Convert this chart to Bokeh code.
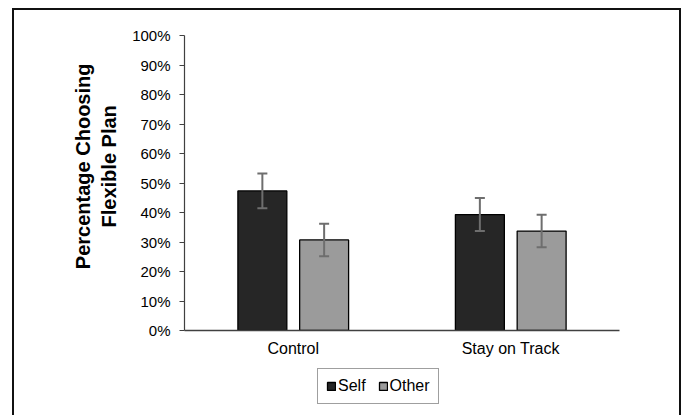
from bokeh.plotting import figure
from bokeh.layouts import column
from bokeh.models import (ColumnDataSource, FactorRange, Range1d, NumeralTickFormatter,
                          Whisker, TeeHead, Legend, LegendItem, FixedTicker, InlineStyleSheet)
from bokeh.transform import dodge
from bokeh.embed import file_html
from bokeh.resources import INLINE

categories = ["Control", "Stay on Track"]
series = ["Self", "Other"]
self_vals = [0.473, 0.393]
other_vals = [0.307, 0.337]
self_err = [0.059, 0.056]
other_err = [0.055, 0.055]
y_ticks = [0.0, 0.1, 0.2, 0.3, 0.4, 0.5, 0.6, 0.7, 0.8, 0.9, 1.0]
y_title_lines = ["Percentage Choosing", "Flexible Plan"]

FONT = "Liberation Sans"
COLORS = {"Self": "#262626", "Other": "#9b9b9b"}
VALUE_COL = {"Self": "self_v", "Other": "other_v"}

src = ColumnDataSource(dict(
    cat=categories,
    self_v=self_vals,
    other_v=other_vals,
    self_lo=[v - e for v, e in zip(self_vals, self_err)],
    self_hi=[v + e for v, e in zip(self_vals, self_err)],
    other_lo=[v - e for v, e in zip(other_vals, other_err)],
    other_hi=[v + e for v, e in zip(other_vals, other_err)],
))

p = figure(width=683, height=360, x_range=FactorRange(*categories, range_padding=0),
           y_range=Range1d(0, 1), output_backend="svg", toolbar_location=None,
           min_border_left=184, min_border_right=64, min_border_top=35, min_border_bottom=30)
p.x_range.factor_padding = 0
p.outline_line_color = None
p.xgrid.grid_line_color = None
p.ygrid.grid_line_color = None
p.background_fill_color = "white"
p.border_fill_color = "white"

off = 0.142
w = 0.225
OFFS = {"Self": -off, "Other": off}
for s in series:
    p.vbar(x=dodge("cat", OFFS[s], range=p.x_range), top=VALUE_COL[s], width=w, source=src,
           fill_color=COLORS[s], line_color="black", line_width=1.3)

for base, lo, hi in [(dodge("cat", -off, range=p.x_range), "self_lo", "self_hi"),
                     (dodge("cat", off, range=p.x_range), "other_lo", "other_hi")]:
    wk = Whisker(source=src, base=base, lower=lo, upper=hi, level="overlay",
                 line_color="#6e6e6e", line_width=2,
                 upper_head=TeeHead(size=10, line_color="#6e6e6e", line_width=2),
                 lower_head=TeeHead(size=10, line_color="#6e6e6e", line_width=2))
    p.add_layout(wk)

# y axis
pad = "\u00a0" * 6
ya = p.yaxis[0]
ya.ticker = FixedTicker(ticks=y_ticks)
ya.formatter = NumeralTickFormatter(format="0%")
ya.major_label_text_font = FONT
ya.major_label_text_font_size = "15px"
ya.major_label_text_color = "black"
ya.major_tick_out = 5
ya.major_tick_in = 0
ya.minor_tick_line_color = None
ya.major_tick_line_color = "#404040"
ya.axis_line_color = "#404040"
ya.axis_line_width = 1.2
ya.major_label_standoff = 9
ya.axis_label = "\n".join(pad + t for t in y_title_lines)
ya.axis_label_text_font = FONT
ya.axis_label_text_font_style = "bold"
ya.axis_label_text_font_size = "20px"
ya.axis_label_text_color = "black"
ya.axis_label_standoff = 9

# x axis
xa = p.xaxis[0]
xa.major_label_text_font = FONT
xa.major_label_text_font_size = "16px"
xa.major_label_text_color = "black"
xa.major_tick_line_color = None
xa.major_tick_out = 0
xa.minor_tick_line_color = None
xa.axis_line_color = "#404040"
xa.axis_line_width = 1.5
xa.major_label_standoff = 9

# legend strip below the chart (degenerate, out-of-view bars; only the legend shows)
p2 = figure(width=683, height=55, x_range=p.x_range, y_range=Range1d(5, 6),
            output_backend="svg", toolbar_location=None,
            min_border_left=0, min_border_right=0, min_border_top=0, min_border_bottom=0)
p2.axis.visible = False
p2.xgrid.grid_line_color = None
p2.ygrid.grid_line_color = None
p2.outline_line_color = None
p2.background_fill_color = "white"
p2.border_fill_color = "white"
items = []
for s in series:
    r = p2.vbar(x=dodge("cat", OFFS[s], range=p.x_range), top=VALUE_COL[s], bottom=VALUE_COL[s],
                width=0, source=src, fill_color=COLORS[s], line_color="black", line_width=1.3)
    items.append(LegendItem(label=s, renderers=[r]))

legend = Legend(items=items, orientation="horizontal", location=(133, 11),
                label_text_font=FONT, label_text_font_size="16px", label_text_color="black",
                glyph_width=10, glyph_height=10, label_standoff=2, spacing=12,
                padding=8, margin=0, border_line_color="#404040", border_line_width=1,
                background_fill_alpha=1, label_height=15)
p2.add_layout(legend, "center")

border_css = InlineStyleSheet(css="""
:host { position: relative; }
:host::after {
  content: "";
  position: absolute;
  left: 12px;
  top: 8px;
  right: 2px;
  bottom: -20px;
  border: 2px solid #111;
  pointer-events: none;
}
""")

layout = column(p, p2, spacing=0, stylesheets=[border_css])

open("out.html", "w").write(file_html(layout, INLINE))
